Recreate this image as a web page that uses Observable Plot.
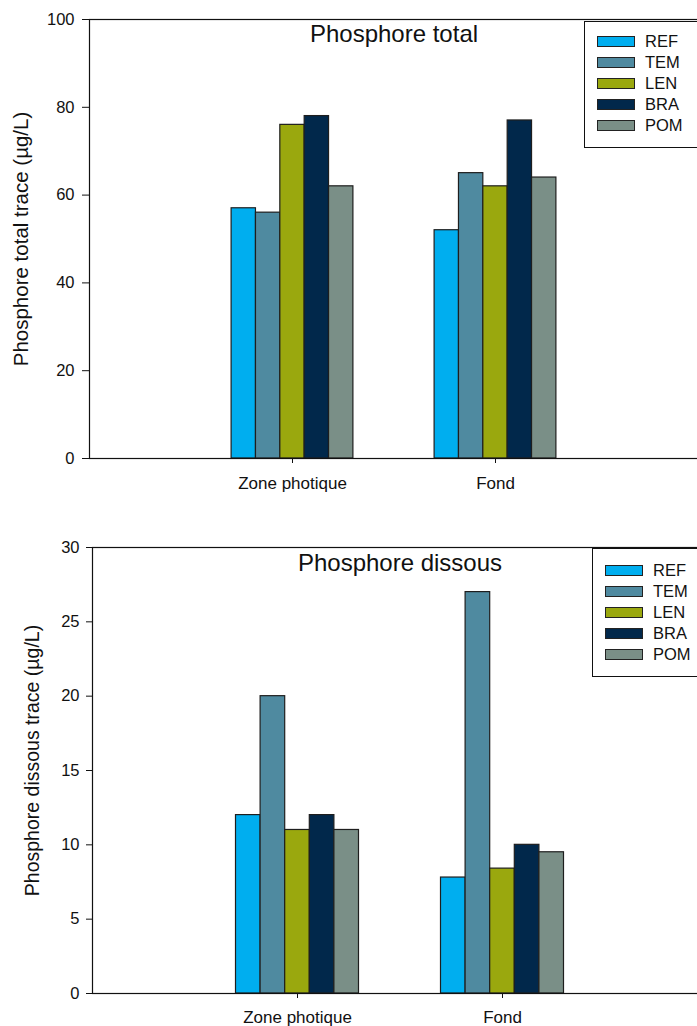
<!DOCTYPE html>
<html>
<head>
<meta charset="utf-8">
<script src="https://cdn.jsdelivr.net/npm/d3@7"></script>
<script src="https://cdn.jsdelivr.net/npm/@observablehq/plot@0.6"></script>
<style>
  html, body { margin: 0; padding: 0; background: #fff; overflow: hidden; }
  #page { position: relative; width: 697px; height: 1026px; overflow: hidden;
          font-family: "Liberation Sans", Arial, sans-serif; }
  .chart { position: absolute; left: 0; }
  .chart svg { max-width: none !important; }
  .legend { position: absolute; border: 1px solid #111; background: #fff; width: 130px;
            box-sizing: border-box; }
  .legend .row { display: flex; align-items: center; height: 21px; }
  .legend .sw { width: 38px; height: 11px; border: 1px solid #222; box-sizing: border-box; }
  .legend .lab { font-size: 16.5px; color: #111; margin-left: 10px; }
</style>
</head>
<body>
<div id="page"></div>
<script>
// Sites and sampling depths
const groups = ["Zone photique", "Fond"];
const series = ["REF", "TEM", "LEN", "BRA", "POM"];
const colors = ["#00aeef", "#4f8aa0", "#9aa80e", "#01284b", "#7a8f87"];

// Phosphore total trace (µg/L)
const totalZone = [57, 56, 76, 78, 62];
const totalFond = [52, 65, 62, 77, 64];
const totalTicks = [0, 20, 40, 60, 80, 100];

// Phosphore dissous trace (µg/L)
const dissousZone = [12, 20, 11, 12, 11];
const dissousFond = [7.8, 27, 8.4, 10, 9.5];
const dissousTicks = [0, 5, 10, 15, 20, 25, 30];

const barW = 0.12; // bar width in x units (groups sit at x = 1 and x = 2)

function table(zone, fond) {
  const rows = [];
  [zone, fond].forEach((vals, gi) => vals.forEach((v, si) => {
    const x1 = gi + 1 + (si - series.length / 2) * barW;
    rows.push({group: groups[gi], series: series[si], value: v, x1, x2: x1 + barW});
  }));
  return rows;
}

function chart({rows, title, ylabel, yTicks, yMax, width, height, mTop, mBottom, mLeft,
                titleDy, labelDx, labelDy, labelSize, yTickSize, yTickPad, xTickPad}) {
  return Plot.plot({
    width, height,
    marginTop: mTop, marginBottom: mBottom, marginLeft: mLeft, marginRight: 0,
    style: {fontFamily: "Liberation Sans, Arial, sans-serif", fontSize: "16.5px", color: "#111",
            background: "#fff", maxWidth: "none"},
    x: {domain: [0, 3], axis: null},
    y: {domain: [0, yMax], axis: null},
    color: {domain: series, range: colors},
    marks: [
      Plot.rectY(rows, {x1: "x1", x2: "x2", y: "value", fill: "series", stroke: "#1e1e1e", strokeWidth: 1.2}),
      Plot.frame({stroke: "#111", strokeWidth: 1.2}),
      Plot.axisY({ticks: yTicks, tickSize: yTickSize, tickPadding: yTickPad, label: null, fontSize: 16.5, stroke: "#111"}),
      Plot.axisX({ticks: [1, 2], tickFormat: d => groups[d - 1], tickSize: 5, tickPadding: xTickPad, label: null, fontSize: 17, stroke: "#111"}),
      Plot.text([title], {frameAnchor: "top", dy: titleDy, fontSize: 24, lineAnchor: "middle", fill: "#111"}),
      Plot.text([ylabel], {frameAnchor: "left", dx: labelDx, dy: labelDy, rotate: -90, fontSize: labelSize,
                           textAnchor: "middle", lineAnchor: "middle", fill: "#111"})
    ]
  });
}

function legend(left, top, padTop) {
  const box = document.createElement("div");
  box.className = "legend";
  box.style.left = left + "px";
  box.style.top = top + "px";
  box.style.paddingTop = padTop + "px";
  box.style.paddingLeft = "12px";
  box.style.height = (padTop + series.length * 21 + 13) + "px";
  series.forEach((s, i) => {
    const row = document.createElement("div");
    row.className = "row";
    const sw = document.createElement("div");
    sw.className = "sw";
    sw.style.background = colors[i];
    const lab = document.createElement("span");
    lab.className = "lab";
    lab.textContent = s;
    row.append(sw, lab);
    box.append(row);
  });
  return box;
}

const page = document.getElementById("page");

const top1 = document.createElement("div");
top1.className = "chart";
top1.style.top = "0px";
top1.append(chart({
  rows: table(totalZone, totalFond), title: "Phosphore total", ylabel: "Phosphore total trace (µg/L)",
  yTicks: totalTicks, yMax: 100, width: 698, height: 500, mTop: 19, mBottom: 42, mLeft: 89,
  titleDy: 15, labelDx: -68, labelDy: 0, labelSize: 20.5, yTickSize: 7, yTickPad: 8, xTickPad: 13
}));
page.append(top1);
page.append(legend(584, 21, 9));

const top2 = document.createElement("div");
top2.className = "chart";
top2.style.top = "520px";
top2.append(chart({
  rows: table(dissousZone, dissousFond), title: "Phosphore dissous", ylabel: "Phosphore dissous trace (µg/L)",
  yTicks: dissousTicks, yMax: 30, width: 707, height: 506, mTop: 27, mBottom: 33, mLeft: 92,
  titleDy: 15.5, labelDx: -60, labelDy: -10, labelSize: 19.5, yTickSize: 6, yTickPad: 7, xTickPad: 12.5
}));
page.append(top2);
page.append(legend(592, 548, 11));
</script>
</body>
</html>
